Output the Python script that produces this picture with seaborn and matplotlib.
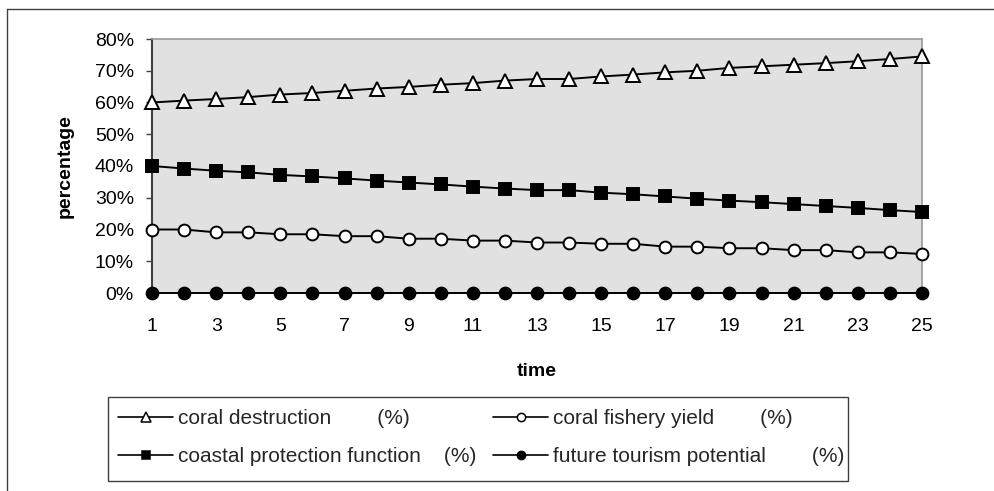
import matplotlib
matplotlib.use("Agg")
import matplotlib.pyplot as plt
import seaborn as sns
import pandas as pd
from matplotlib.lines import Line2D
from matplotlib.patches import Rectangle

time = list(range(1, 26))
coral_destruction = [60.0, 60.6, 61.1, 61.7, 62.5, 63.0, 63.7, 64.4, 64.9, 65.6,
                     66.1, 66.9, 67.4, 67.4, 68.2, 68.8, 69.5, 70.0, 70.9, 71.4,
                     71.9, 72.4, 73.0, 73.7, 74.5]
coral_fishery_yield = [20.0, 20.0, 19.1, 19.1, 18.5, 18.5, 17.9, 17.9, 17.1, 17.1,
                       16.5, 16.5, 15.9, 15.9, 15.5, 15.5, 14.6, 14.6, 14.1, 14.1,
                       13.5, 13.5, 12.8, 12.8, 12.3]
coastal_protection = [40.0, 39.2, 38.5, 38.0, 37.2, 36.7, 36.1, 35.4, 34.8, 34.2,
                      33.5, 32.9, 32.4, 32.4, 31.6, 31.1, 30.4, 29.7, 29.1, 28.6,
                      28.0, 27.4, 26.8, 26.1, 25.5]
future_tourism = [0.0] * 25

series_labels = ["coral destruction", "coral fishery yield",
                 "coastal protection function", "future tourism potential"]
legend_texts = ["coral destruction        (%)", "coral fishery yield        (%)",
                "coastal protection function    (%)", "future tourism potential        (%)"]
xticks = list(range(1, 26, 2))
yticks = [0, 10, 20, 30, 40, 50, 60, 70, 80]
ytick_labels = [f"{v}%" for v in yticks]

sns.set_theme(style="white")
plt.rcParams['font.family'] = ['Liberation Sans', 'DejaVu Sans']
FS = 14
LFS = 15

fig = plt.figure(figsize=(9.94, 4.91), dpi=100)
ax = fig.add_axes([152/994, 1-293/491, (922-152)/994, (293-39)/491])
ax.set_facecolor("#e1e1e1")

df = pd.DataFrame({"time": time,
                   series_labels[0]: coral_destruction,
                   series_labels[1]: coral_fishery_yield,
                   series_labels[2]: coastal_protection,
                   series_labels[3]: future_tourism})

styles = [("^", "white", 9.5), ("o", "white", 8.5), ("s", "black", 9), ("o", "black", 8.5)]
handles = []
for name, (mk, fc, ms), lt in zip(series_labels, styles, legend_texts):
    sns.lineplot(data=df, x="time", y=name, ax=ax, color="black", linewidth=1.4,
                 marker=mk, markersize=ms, markerfacecolor=fc, markeredgecolor="black",
                 markeredgewidth=1.4, clip_on=False, zorder=3)
    handles.append(Line2D([0], [0], color="black", linewidth=1.2, marker=mk,
                          markersize=ms*0.7, markerfacecolor=fc, markeredgecolor="black",
                          markeredgewidth=1.1, label=lt))

ax.set_xlim(1, 25)
ax.set_ylim(0, 80)
ax.set_xticks(xticks)
ax.set_xticklabels([str(t) for t in xticks])
ax.set_yticks(yticks)
ax.set_yticklabels(ytick_labels)
ax.tick_params(axis="x", length=0, pad=18, labelsize=FS, colors="black")
ax.tick_params(axis="y", length=4, width=1, pad=9, labelsize=FS, colors="black",
               direction="out", left=True)
ax.yaxis.set_tick_params(color="#404040")

for s in ["top", "right", "bottom"]:
    ax.spines[s].set_color("#999999")
    ax.spines[s].set_linewidth(1.2)
ax.spines["left"].set_color("#404040")
ax.spines["left"].set_linewidth(1.5)

ax.set_xlabel("time", fontsize=FS, fontweight="bold", labelpad=20, color="black")
ax.set_ylabel("percentage", fontsize=FS, fontweight="bold", labelpad=15, color="black")

# legend
leg = fig.legend(handles=[handles[0], handles[2], handles[1], handles[3]],
                 ncol=2, loc="upper left", bbox_to_anchor=(118/994, 1-409/491),
                 frameon=False, fontsize=LFS, handlelength=2.64, handletextpad=0.25,
                 columnspacing=0.8, labelspacing=0.92, borderaxespad=0, borderpad=0)
fig.add_artist(Rectangle((108/994, 1-481/491), (848-108)/994, (481-397)/491,
                         transform=fig.transFigure, fill=False,
                         edgecolor="#404040", linewidth=1.0))

# outer frame (top and left edges)
fig.add_artist(Line2D([7/994, 7/994], [0, 1-9/491], transform=fig.transFigure,
                      color="#404040", linewidth=1.0))
fig.add_artist(Line2D([7/994, 1], [1-9/491, 1-9/491], transform=fig.transFigure,
                      color="#404040", linewidth=1.0))

fig.savefig("out.png", dpi=100)
